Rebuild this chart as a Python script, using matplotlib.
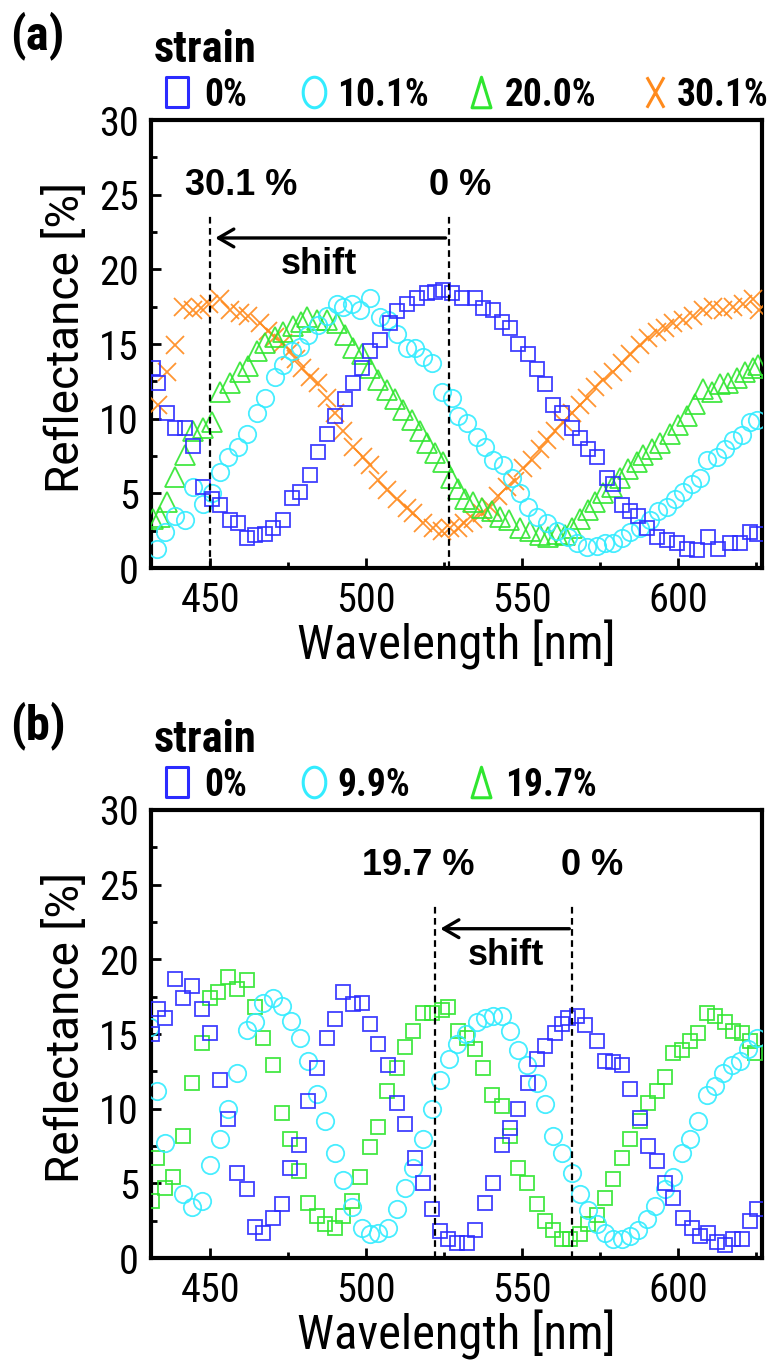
import matplotlib
matplotlib.use("Agg")
import matplotlib.pyplot as plt
import numpy as np
from matplotlib import font_manager
from matplotlib.lines import Line2D
from matplotlib.path import Path
from matplotlib.ticker import MultipleLocator


def narrow_font():
    """Return (family, stretch, found) for a condensed sans face if one is installed."""
    entries = font_manager.fontManager.ttflist
    names = {f.name for f in entries}
    for n in ["Liberation Sans Narrow", "Arial Narrow", "Roboto Condensed",
              "Noto Sans Condensed", "Noto Sans SemiCondensed", "Open Sans Condensed",
              "DejaVu Sans Condensed"]:
        if n in names:
            return n, "normal", True
    for fam in ["Noto Sans", "DejaVu Sans", "Roboto", "Open Sans", "Liberation Sans"]:
        for f in entries:
            if f.name == fam and str(f.stretch) in ("condensed", "semi-condensed",
                                                     "extra-condensed"):
                return fam, "condensed", True
    for f in entries:
        if "Condensed" in f.name or "Narrow" in f.name:
            return f.name, "normal", True
    return "Liberation Sans", "normal", False


NARROW, STRETCH, HAVE_NARROW = narrow_font()
BOLD = "Liberation Sans"
WIDE = "Roboto" if "Roboto" in {f.name for f in font_manager.fontManager.ttflist} \
    else "Liberation Sans"
K = 1.0 if HAVE_NARROW else 0.84   # shrink text when no condensed face exists

# ---------------- data: panel (a) ----------------
strain_a = ["0%", "10.1%", "20.0%", "30.1%"]

wl_a0 = [431.7, 433.3, 436.2, 438.8, 442.0, 444.6, 447.8, 450.5, 453.0, 456.4, 459.0, 461.8,
         464.4, 467.6, 470.2, 473.4, 476.3, 478.8, 482.0, 484.6, 487.5, 490.0, 493.3, 495.8,
         498.7, 501.3, 504.5, 507.7, 510.0, 513.1, 516.3, 519.6, 522.0, 524.7, 527.6, 530.8,
         535.0, 537.5, 540.7, 543.6, 546.2, 548.7, 552.0, 554.8, 557.4, 560.0, 562.8, 566.0,
         568.6, 571.3, 574.0, 577.2, 579.2, 582.0, 584.6, 587.2, 590.2, 593.3, 596.5, 599.7,
         602.9, 606.0, 609.6, 612.8, 616.7, 620.0, 623.0, 625.3]
r_a0 = [13.4, 12.4, 10.4, 9.4, 9.4, 8.2, 5.4, 4.6, 4.2, 3.2, 3.0, 2.0,
        2.2, 2.3, 2.7, 3.2, 4.7, 5.1, 6.2, 7.8, 9.0, 10.2, 11.3, 12.4,
        13.4, 14.5, 15.3, 16.4, 17.2, 17.7, 18.1, 18.4, 18.5, 18.6, 18.4, 18.1,
        18.1, 17.4, 17.3, 16.5, 16.1, 15.0, 14.3, 13.3, 12.3, 10.9, 10.4, 9.4,
        8.7, 8.0, 7.4, 6.0, 5.6, 4.2, 3.8, 3.5, 2.7, 2.1, 1.9, 1.7,
        1.3, 1.2, 2.1, 1.3, 1.7, 1.7, 2.4, 2.3]

wl_a1 = [433.0, 435.6, 438.8, 442.0, 444.6, 447.8, 450.6, 453.2, 455.8, 459.0, 461.8, 465.0,
         467.6, 470.8, 473.4, 476.3, 478.8, 481.5, 484.5, 487.5, 490.7, 492.6, 495.5, 498.0,
         501.3, 504.5, 507.0, 510.0, 513.1, 515.7, 518.3, 521.0, 524.4, 527.6, 529.5, 532.4,
         535.6, 538.1, 540.7, 544.0, 546.8, 549.4, 552.0, 554.8, 558.0, 561.2, 564.7, 567.6,
         570.8, 574.0, 576.6, 579.2, 582.0, 584.6, 587.8, 591.0, 593.6, 596.5, 599.0, 601.6,
         604.5, 607.0, 609.3, 612.5, 615.0, 617.6, 620.5, 623.0, 625.3]
r_a1 = [1.3, 2.4, 3.5, 3.2, 5.4, 4.3, 5.0, 6.4, 7.4, 8.1, 9.0, 10.4,
        11.4, 12.8, 13.6, 14.5, 14.8, 15.6, 16.3, 16.9, 17.7, 17.5, 17.7, 17.3,
        18.1, 16.8, 16.6, 15.7, 14.7, 14.7, 14.1, 13.7, 11.8, 11.4, 10.2, 9.7,
        8.8, 8.1, 7.2, 6.9, 6.0, 5.0, 4.1, 3.4, 3.0, 2.5, 2.1, 1.7,
        1.4, 1.5, 1.7, 1.7, 2.0, 2.4, 2.7, 3.2, 3.8, 4.1, 4.6, 5.1,
        5.6, 6.0, 7.2, 7.4, 8.0, 8.6, 8.9, 9.8, 9.9]

wl_a2 = [431.7, 434.0, 436.2, 438.8, 442.0, 444.6, 447.8, 450.6, 453.2, 456.4, 459.6, 462.2,
         465.0, 467.6, 470.8, 473.4, 476.6, 479.0, 481.0, 484.3, 487.5, 490.7, 493.3, 495.8,
         498.7, 501.3, 503.8, 506.7, 509.3, 511.9, 514.7, 517.3, 519.6, 522.1, 524.7, 527.3,
         529.5, 531.7, 534.3, 537.2, 540.4, 543.0, 546.0, 549.4, 552.6, 555.8, 558.5, 561.2,
         563.8, 566.0, 568.6, 571.2, 573.4, 576.0, 578.8, 581.4, 584.0, 586.9, 588.8, 591.7,
         594.2, 597.4, 600.0, 602.9, 605.4, 608.0, 610.9, 613.5, 616.0, 618.9, 621.5, 624.0,
         625.6]
r_a2 = [3.3, 3.4, 4.4, 6.1, 7.6, 9.2, 9.4, 9.8, 11.8, 12.4, 13.1, 13.5,
        14.5, 15.1, 15.5, 15.8, 16.2, 16.5, 16.8, 16.6, 16.6, 16.4, 15.6, 14.7,
        14.3, 13.4, 12.6, 11.9, 11.3, 10.6, 9.9, 9.2, 8.4, 7.7, 7.1, 6.0,
        5.3, 4.6, 4.4, 4.0, 3.8, 3.4, 3.2, 2.7, 2.5, 2.2, 2.1, 2.3,
        2.2, 2.7, 3.3, 3.9, 4.4, 5.0, 5.4, 6.0, 6.6, 7.1, 7.6, 8.0,
        8.4, 9.0, 9.6, 10.2, 11.0, 12.0, 11.8, 12.3, 12.4, 12.7, 13.1, 13.4,
        13.6]

wl_a3 = [433.3, 436.2, 438.8, 441.3, 444.6, 447.0, 449.5, 453.2, 456.4, 459.6, 462.2, 466.0,
         468.6, 470.8, 473.4, 475.5, 477.5, 479.5, 482.0, 484.6, 487.5, 490.0, 492.6, 495.8,
         499.0, 501.3, 503.8, 506.7, 510.0, 513.1, 515.1, 518.3, 521.5, 524.4, 527.0, 529.5,
         531.5, 534.3, 537.2, 539.7, 542.3, 545.2, 547.8, 550.3, 553.2, 555.8, 558.0, 560.6,
         563.1, 566.0, 568.6, 570.8, 573.4, 576.0, 579.2, 582.0, 584.6, 587.8, 590.4, 593.3,
         596.0, 598.4, 601.6, 604.8, 608.0, 611.2, 614.4, 617.6, 620.8, 624.0, 626.0]
r_a3 = [10.9, 13.1, 14.9, 17.5, 17.3, 17.4, 17.7, 18.0, 17.3, 17.1, 16.9, 16.4,
        15.9, 15.5, 15.1, 14.5, 14.0, 13.4, 12.8, 12.4, 11.4, 10.4, 9.2, 8.1,
        7.4, 6.9, 5.9, 5.2, 4.6, 4.0, 3.7, 3.0, 2.7, 2.5, 2.7, 2.7,
        3.0, 3.3, 3.7, 4.1, 4.8, 5.4, 5.8, 6.7, 7.2, 8.0, 8.6, 9.2,
        9.8, 10.4, 10.9, 11.4, 12.1, 12.6, 13.1, 13.7, 14.3, 14.9, 15.4, 15.8,
        16.1, 16.4, 16.6, 16.9, 17.3, 17.5, 17.3, 17.5, 17.7, 18.0, 17.3]

# ---------------- data: panel (b) ----------------
strain_b = ["0%", "9.9%", "19.7%"]

wl_b0 = [431.4, 433.3, 435.6, 438.8, 441.3, 444.2, 447.4, 450.0, 453.2, 455.8, 458.7, 461.8,
         464.4, 467.0, 470.2, 473.0, 475.6, 478.5, 481.4, 484.3, 487.5, 490.0, 492.6, 495.8,
         498.7, 501.3, 503.8, 507.0, 510.0, 512.5, 515.7, 518.3, 521.1, 523.7, 526.3, 529.2,
         532.4, 535.0, 538.1, 540.7, 543.6, 546.2, 548.7, 552.0, 554.8, 557.4, 560.6, 563.0,
         564.7, 567.6, 570.2, 574.0, 576.6, 579.2, 582.0, 584.6, 587.8, 590.4, 593.3, 595.8,
         598.4, 601.6, 604.5, 607.0, 609.6, 612.5, 615.0, 617.6, 620.5, 623.0, 625.3]
r_b0 = [15.0, 16.7, 16.1, 18.7, 17.4, 18.2, 16.7, 15.1, 11.9, 9.3, 5.7, 4.6,
        2.1, 1.7, 2.7, 3.6, 6.0, 7.6, 10.5, 12.7, 14.7, 16.0, 17.8, 17.0,
        17.1, 15.7, 14.3, 12.9, 10.4, 9.0, 6.7, 5.0, 3.3, 1.8, 1.3, 1.0,
        1.0, 1.9, 3.7, 5.0, 7.6, 8.7, 10.0, 11.7, 13.3, 14.2, 15.1, 15.7,
        16.1, 16.2, 15.6, 14.5, 13.2, 13.1, 12.9, 11.3, 9.4, 7.5, 6.5, 5.0,
        4.0, 2.7, 2.0, 1.5, 1.7, 1.1, 0.9, 1.3, 1.3, 2.5, 3.3]

wl_b1 = [430.8, 433.0, 435.6, 441.3, 444.2, 447.4, 450.0, 453.2, 455.8, 458.7, 461.8, 464.4,
         467.0, 470.2, 473.0, 476.0, 478.8, 481.4, 484.3, 486.9, 490.0, 492.6, 495.5, 498.7,
         501.3, 503.8, 507.0, 510.0, 512.5, 515.1, 518.3, 521.1, 523.7, 526.5, 529.3, 532.0,
         535.6, 538.1, 540.7, 543.6, 546.2, 548.7, 551.6, 554.8, 557.4, 560.0, 562.8, 566.0,
         568.6, 571.2, 574.0, 576.6, 579.2, 582.0, 584.6, 587.2, 590.0, 592.6, 595.8, 598.4,
         601.3, 603.8, 606.4, 609.3, 611.9, 614.4, 617.3, 619.9, 622.5, 625.3]
r_b1 = [15.5, 11.2, 7.7, 4.3, 3.4, 3.8, 6.2, 8.0, 10.0, 12.4, 15.3, 15.8,
        17.1, 17.4, 16.9, 15.9, 14.7, 13.2, 11.0, 9.2, 7.0, 5.2, 3.4, 2.0,
        1.6, 1.7, 2.0, 3.3, 4.7, 6.0, 8.0, 10.0, 11.9, 13.3, 14.3, 15.0,
        15.8, 16.1, 16.2, 16.2, 15.2, 13.9, 12.9, 11.7, 10.3, 8.2, 7.0, 5.7,
        4.3, 3.2, 2.3, 1.7, 1.3, 1.3, 1.5, 1.9, 2.6, 3.5, 4.6, 5.4,
        7.0, 8.0, 9.2, 10.9, 11.5, 12.4, 12.9, 13.2, 14.0, 14.7]

wl_b2 = [431.4, 433.0, 435.6, 438.1, 441.3, 444.2, 447.4, 450.0, 452.6, 455.8, 458.7, 461.8,
         464.4, 467.0, 470.2, 473.0, 475.6, 478.5, 481.4, 484.3, 486.9, 490.0, 492.6, 495.5,
         498.0, 501.3, 503.8, 506.7, 510.0, 512.5, 515.1, 518.3, 521.2, 524.4, 526.3, 529.5,
         532.4, 535.0, 537.5, 540.4, 543.6, 546.2, 548.7, 551.6, 554.8, 557.4, 560.0, 562.8,
         565.4, 568.6, 571.2, 574.0, 576.6, 579.2, 582.0, 584.6, 587.8, 590.4, 593.3, 595.8,
         598.4, 601.3, 603.8, 606.4, 609.3, 611.9, 615.0, 617.6, 620.5, 623.0, 624.7]
r_b2 = [3.8, 6.7, 4.7, 5.4, 8.2, 11.7, 14.4, 17.4, 17.8, 18.8, 18.0, 18.6,
        16.8, 14.7, 12.9, 9.7, 8.0, 5.8, 3.7, 2.8, 2.3, 2.0, 2.8, 3.8,
        5.4, 7.4, 8.8, 11.2, 12.7, 14.1, 15.2, 16.4, 16.4, 16.6, 16.8, 15.2,
        14.7, 14.0, 12.7, 10.9, 10.2, 8.2, 6.0, 5.0, 3.6, 2.5, 1.9, 1.3,
        1.3, 1.6, 2.3, 2.9, 4.0, 5.3, 6.7, 8.0, 9.2, 10.4, 11.2, 12.1,
        13.7, 13.9, 14.5, 15.1, 16.4, 16.2, 15.8, 15.2, 15.1, 14.5, 13.7]

# reflectance-peak positions marked with dashed lines
peaks_a = [450.0, 526.5]
peak_labels_a = ["30.1 %", "0 %"]
peaks_b = [522.2, 566.2]
peak_labels_b = ["19.7 %", "0 %"]

BLUE = "#2b2bff"
CYAN = "#33ecff"
GREEN = "#2fe62f"
ORANGE = "#ff8a1c"

W, H = 769, 1361
fig = plt.figure(figsize=(W / 100, H / 100), dpi=100)


def fig_xy(px, py):
    return px / W, 1 - py / H


ax_a = fig.add_axes([151 / W, 1 - 568 / H, 611 / W, 448 / H])
ax_b = fig.add_axes([151 / W, 1 - 1258 / H, 611 / W, 448 / H])

NFONT = dict(fontfamily=NARROW, fontstretch=STRETCH)


def style_axes(ax):
    ax.set_xlim(431, 627)
    ax.set_ylim(0, 30)
    ax.xaxis.set_major_locator(MultipleLocator(50))
    ax.xaxis.set_minor_locator(MultipleLocator(25))
    ax.yaxis.set_major_locator(MultipleLocator(5))
    ax.yaxis.set_minor_locator(MultipleLocator(2.5))
    for s in ax.spines.values():
        s.set_linewidth(3.0)
    ax.tick_params(which="both", direction="in", top=False, right=False,
                   width=2.0, labelsize=29 * K, colors="black")
    ax.tick_params(which="major", length=7)
    ax.tick_params(which="minor", length=4)
    ax.tick_params(axis="x", which="major", pad=9)
    ax.tick_params(axis="y", which="major", pad=9)
    for lab in ax.get_xticklabels() + ax.get_yticklabels():
        lab.set_fontfamily(NARROW)
        lab.set_fontstretch(STRETCH)
    ax.set_xlabel("Wavelength [nm]", fontsize=35 * K, **NFONT)
    ax.set_ylabel("Reflectance [%]", fontsize=33, fontfamily=WIDE)
    ax.xaxis.set_label_coords(0.5, -0.117)
    ax.yaxis.set_label_coords(-0.103, 0.515)


def peak_marks(ax, peaks, labels, arrow_y, top_y, label_x, label_y, shift_x, shift_y):
    for p in peaks:
        ax.plot([p, p], [0, top_y], color="black", lw=1.6, ls=(0, (3.0, 2.0)),
                zorder=4, clip_on=False)
    ax.annotate("", xy=(peaks[0] + 1.6, arrow_y), xytext=(peaks[1] - 1.0, arrow_y),
                arrowprops=dict(arrowstyle="->,head_length=0.55,head_width=0.32",
                                mutation_scale=20, lw=2.4, color="black",
                                shrinkA=0, shrinkB=0), zorder=5)
    for x, t in zip(label_x, labels):
        ax.text(x, label_y, t, ha="center", va="center", fontsize=26,
                fontweight="bold", fontfamily=BOLD, zorder=5)
    ax.text(shift_x, shift_y, "shift", ha="center", va="center", fontsize=26,
            fontweight="bold", fontfamily=BOLD, zorder=5)


kw = dict(ls="none", mfc="none", mew=1.3, alpha=0.9, zorder=3, clip_on=True)

# panel (a)
style_axes(ax_a)
ax_a.plot(wl_a3, r_a3, marker="x", ms=13.5, color=ORANGE, **kw)
ax_a.plot(wl_a2, r_a2, marker="^", ms=14, color=GREEN, **kw)
ax_a.plot(wl_a1, r_a1, marker="o", ms=12.5, color=CYAN, **kw)
ax_a.plot(wl_a0, r_a0, marker="s", ms=10.5, color=BLUE, **kw)
peak_marks(ax_a, peaks_a, peak_labels_a, 22.1, 23.8, [459.9, 530.3], 25.6, 485.0, 20.35)

# panel (b)
style_axes(ax_b)
ax_b.plot(wl_b2, r_b2, marker="s", ms=10.5, color=GREEN, **kw)
ax_b.plot(wl_b1, r_b1, marker="o", ms=12.5, color=CYAN, **kw)
ax_b.plot(wl_b0, r_b0, marker="s", ms=10.5, color=BLUE, **kw)
peak_marks(ax_b, peaks_b, peak_labels_b, 22.05, 23.7, [516.7, 572.4], 26.3, 544.9, 20.25)

# legend markers drawn with narrow (tall) shapes
rect_path = Path([(-0.36, -0.5), (0.36, -0.5), (0.36, 0.5), (-0.36, 0.5), (-0.36, -0.5)],
                 [Path.MOVETO, Path.LINETO, Path.LINETO, Path.LINETO, Path.CLOSEPOLY])
th = np.linspace(0, 2 * np.pi, 61)
ell_path = Path(np.column_stack([0.37 * np.cos(th), 0.5 * np.sin(th)]))
tri_path = Path([(0, 0.5), (-0.31, -0.5), (0.31, -0.5), (0, 0.5)],
                [Path.MOVETO, Path.LINETO, Path.LINETO, Path.CLOSEPOLY])
cross_path = Path([(-0.28, -0.5), (0.28, 0.5), (-0.28, 0.5), (0.28, -0.5)],
                  [Path.MOVETO, Path.LINETO, Path.MOVETO, Path.LINETO])


def header(letter, y0, labels, markers, colors):
    x, y = fig_xy(10, y0 + 36)
    fig.text(x, y, letter, fontsize=35 * K, fontweight="bold", ha="left", va="center",
             **NFONT)
    x, y = fig_xy(154, y0 + 62)
    fig.text(x, y, "strain", fontsize=32 * K, fontweight="bold", ha="left",
             va="baseline", **NFONT)
    mx = [177, 314, 481, 655]
    tx = [204, 337, 505, 677]
    for i, (lab, m, c) in enumerate(zip(labels, markers, colors)):
        x, y = fig_xy(mx[i], y0 + 92)
        fig.add_artist(Line2D([x], [y], transform=fig.transFigure, marker=m, ms=22,
                              mfc="none", mec=c, mew=2.2, ls="none"))
        x, y = fig_xy(tx[i], y0 + 106)
        fig.text(x, y, lab, fontsize=27 * K, fontweight="bold", ha="left",
                 va="baseline", **NFONT)


header("(a)", 0, strain_a, [rect_path, ell_path, tri_path, cross_path],
       [BLUE, CYAN, GREEN, ORANGE])
header("(b)", 690, strain_b, [rect_path, ell_path, tri_path],
       [BLUE, CYAN, GREEN])

fig.savefig("out.png", dpi=100)
